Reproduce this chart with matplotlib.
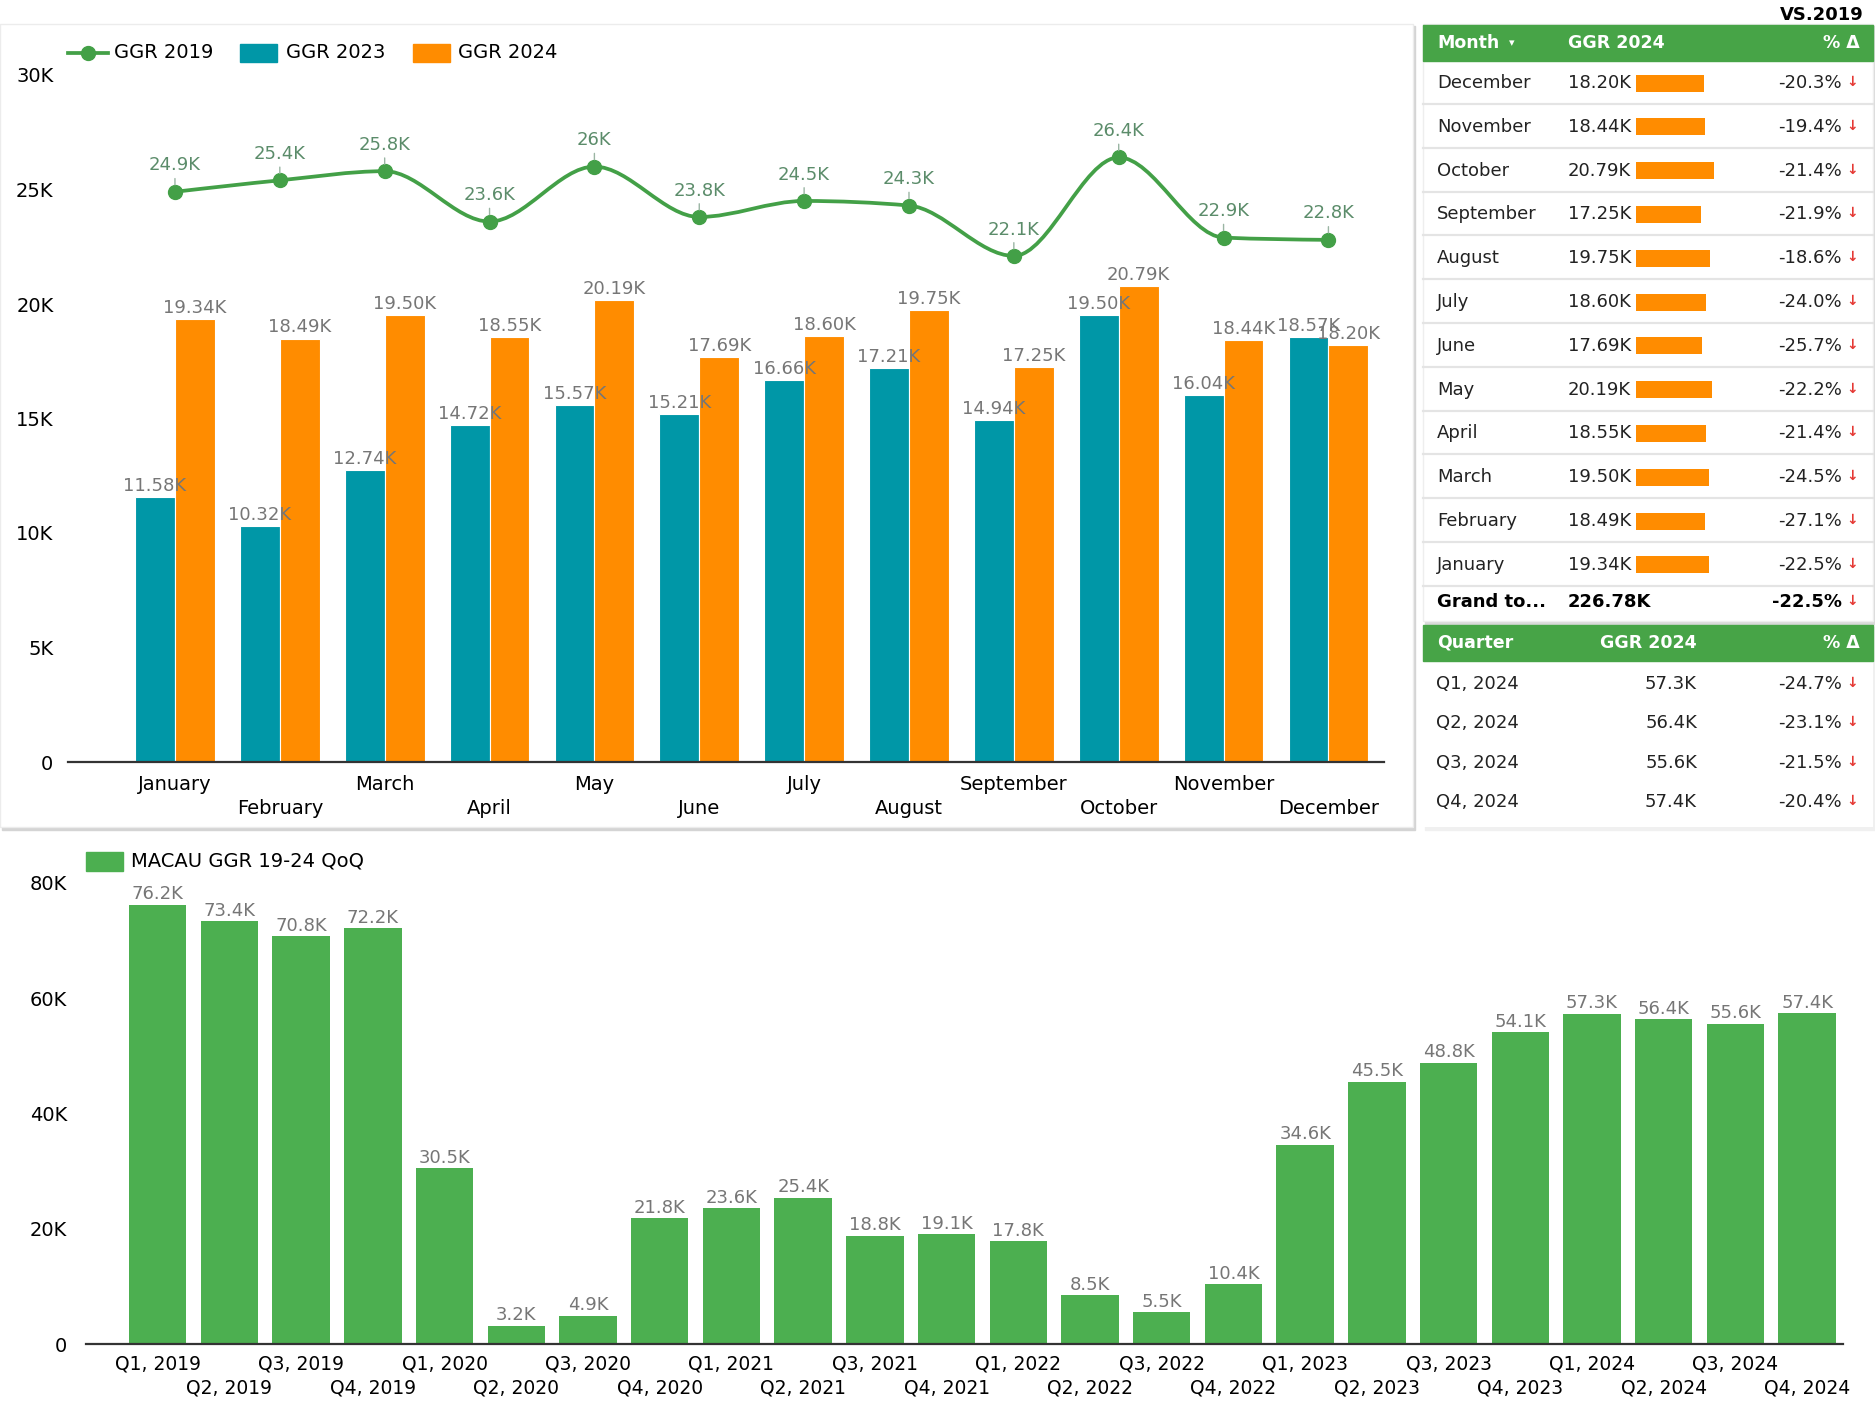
import numpy as np
import matplotlib
matplotlib.use("Agg")
import matplotlib.pyplot as plt
from matplotlib.path import Path
from matplotlib.patches import PathPatch, Rectangle
from matplotlib.lines import Line2D
from matplotlib.ticker import FuncFormatter

plt.rcParams["font.family"] = ["DejaVu Sans"]

# ---- data (values in thousands) ----
months = ["January", "February", "March", "April", "May", "June", "July",
          "August", "September", "October", "November", "December"]
ggr_2019 = [24.9, 25.4, 25.8, 23.6, 26.0, 23.8, 24.5, 24.3, 22.1, 26.4, 22.9, 22.8]
ggr_2023 = [11.58, 10.32, 12.74, 14.72, 15.57, 15.21, 16.66, 17.21, 14.94, 19.50, 16.04, 18.57]
ggr_2024 = [19.34, 18.49, 19.50, 18.55, 20.19, 17.69, 18.60, 19.75, 17.25, 20.79, 18.44, 18.20]

quarters = [f"Q{q}, {y}" for y in range(2019, 2025) for q in range(1, 5)]
ggr_qoq = [76.2, 73.4, 70.8, 72.2, 30.5, 3.2, 4.9, 21.8, 23.6, 25.4, 18.8, 19.1,
           17.8, 8.5, 5.5, 10.4, 34.6, 45.5, 48.8, 54.1, 57.3, 56.4, 55.6, 57.4]

# table (VS.2019) rows, December first
tbl_months = months[::-1]
tbl_ggr = ggr_2024[::-1]
tbl_pct = [-20.3, -19.4, -21.4, -21.9, -18.6, -24.0, -25.7, -22.2, -21.4, -24.5, -27.1, -22.5]
grand_total = 226.78
grand_pct = -22.5
q_labels = ["Q1, 2024", "Q2, 2024", "Q3, 2024", "Q4, 2024"]
q_ggr = [57.3, 56.4, 55.6, 57.4]
q_pct = [-24.7, -23.1, -21.5, -20.4]

TEAL = "#0097A7"
ORANGE = "#FF8C00"
GREEN = "#43A047"
BAR_GREEN = "#4CAF50"
HEAD_GREEN = "#47A447"
LBL_GREY = "#767676"
LINE_LBL = "#5B8C6A"

W, H = 1875, 1407
fig = plt.figure(figsize=(W / 100, H / 100), dpi=100)
fig.patch.set_facecolor("white")

# background axes in pixel coordinates (cards, legends, table)
bg = fig.add_axes([0, 0, 1, 1], zorder=0)
bg.set_xlim(0, W)
bg.set_ylim(H, 0)
bg.axis("off")


def px_axes(x0, y0, x1, y1):
    ax = fig.add_axes([x0 / W, 1 - y1 / H, (x1 - x0) / W, (y1 - y0) / H], zorder=2)
    ax.set_facecolor("none")
    return ax


def monotone_path(x, y):
    # monotone cubic (like d3 curveMonotoneX) as bezier segments
    x = np.asarray(x, float)
    y = np.asarray(y, float)
    n = len(x)
    h = np.diff(x)
    s = np.diff(y) / h
    t = np.zeros(n)
    for i in range(1, n - 1):
        s0, s1, h0, h1 = s[i - 1], s[i], h[i - 1], h[i]
        p = (s0 * h1 + s1 * h0) / (h0 + h1)
        t[i] = (np.sign(s0) + np.sign(s1)) * min(abs(s0), abs(s1), 0.5 * abs(p))
    t[0] = (3 * s[0] - t[1]) / 2
    t[-1] = (3 * s[-1] - t[-2]) / 2
    verts = [(x[0], y[0])]
    codes = [Path.MOVETO]
    for i in range(n - 1):
        dx = (x[i + 1] - x[i]) / 3
        verts += [(x[i] + dx, y[i] + dx * t[i]),
                  (x[i + 1] - dx, y[i + 1] - dx * t[i + 1]),
                  (x[i + 1], y[i + 1])]
        codes += [Path.CURVE4] * 3
    return Path(verts, codes)


def staggered_xticks(ax, labels, size, pad1, pad2):
    # two rows of category labels: even ones on the major ticks, odd ones on the minor ticks
    pos = np.arange(len(labels))
    ax.set_xticks(pos[::2])
    ax.set_xticklabels(labels[::2], fontsize=size)
    ax.set_xticks(pos[1::2], minor=True)
    ax.set_xticklabels(labels[1::2], minor=True, fontsize=size)
    ax.tick_params(axis="x", which="major", length=0, pad=pad1)
    ax.tick_params(axis="x", which="minor", length=0, pad=pad2)


def k_fmt(v, p):
    return "0" if v == 0 else f"{v:g}K"


# ---- cards ----
bg.add_patch(Rectangle((2, 26), 1413, 804, color="#d4d4d4", zorder=0))
bg.add_patch(Rectangle((0, 24), 1413, 803, facecolor="white", edgecolor="#ececec", lw=1, zorder=1))
bg.add_patch(Rectangle((1425, 26), 450, 598, color="#d9d9d9", zorder=0))
bg.add_patch(Rectangle((1423, 24), 450, 597, facecolor="white", edgecolor="#eeeeee", lw=1, zorder=1))
bg.add_patch(Rectangle((1425, 627), 450, 203, color="#f0f0f0", zorder=0))
bg.add_patch(Rectangle((1423, 625), 450, 202, facecolor="white", zorder=1))

# ---- top chart ----
ax = px_axes(68, 75, 1384, 762)
x = np.arange(len(months))
bw = 0.38
b23 = ax.bar(x - bw / 2, ggr_2023, bw, color=TEAL, edgecolor="white", linewidth=0.8, zorder=2)
b24 = ax.bar(x + bw / 2, ggr_2024, bw, color=ORANGE, edgecolor="white", linewidth=0.8, zorder=2)
for bars, vals in ((b23, ggr_2023), (b24, ggr_2024)):
    for r, v in zip(bars, vals):
        ax.annotate(f"{v:.2f}K", (r.get_x() + r.get_width() / 2, v), xytext=(0, 8),
                    textcoords="offset points", ha="center", va="center",
                    fontsize=13, color=LBL_GREY, zorder=5)

ax.add_patch(PathPatch(monotone_path(x, ggr_2019), fill=False, edgecolor=GREEN, lw=2.7, zorder=3))
ax.plot(x, ggr_2019, "o", color=GREEN, markersize=10, zorder=4)
for xi, v in zip(x, ggr_2019):
    ax.annotate(f"{v:g}K", (xi, v), xytext=(0, 19), textcoords="offset points",
                ha="center", va="center", fontsize=13, color=LINE_LBL, zorder=5,
                arrowprops=dict(arrowstyle="-", color="#9ab5a3", lw=1, shrinkA=1, shrinkB=5))

ax.set_xlim(-1.02, 11.53)
ax.set_ylim(0, 30)
ax.set_yticks(range(0, 31, 5))
ax.yaxis.set_major_formatter(FuncFormatter(k_fmt))
staggered_xticks(ax, months, 14, 9.5, 27)
ax.tick_params(axis="y", length=0, pad=10.5, labelsize=14)
for sp in ("top", "right", "left"):
    ax.spines[sp].set_visible(False)
ax.spines["bottom"].set_color("#333333")
ax.spines["bottom"].set_linewidth(1.6)

# top legend
bg.add_line(Line2D([68, 108], [53, 53], color=GREEN, lw=2.7, zorder=3))
bg.plot([88], [53], "o", color=GREEN, markersize=10, zorder=4)
bg.text(114, 53, "GGR 2019", fontsize=14, va="center", ha="left", zorder=4)
bg.add_patch(Rectangle((240, 44), 37, 18, color=TEAL, zorder=3))
bg.text(286, 53, "GGR 2023", fontsize=14, va="center", ha="left", zorder=4)
bg.add_patch(Rectangle((413, 44), 37, 18, color=ORANGE, zorder=3))
bg.text(458, 53, "GGR 2024", fontsize=14, va="center", ha="left", zorder=4)

# ---- bottom chart ----
ax2 = px_axes(86, 883, 1843, 1344)
xq = np.arange(len(quarters))
bq = ax2.bar(xq, ggr_qoq, 0.8, color=BAR_GREEN, zorder=2)
for r, v in zip(bq, ggr_qoq):
    ax2.annotate(f"{v:.1f}K", (r.get_x() + r.get_width() / 2, v), xytext=(0, 7.5),
                 textcoords="offset points", ha="center", va="center",
                 fontsize=13, color=LBL_GREY)
ax2.set_xlim(-1.0, 23.5)
ax2.set_ylim(0, 80)
ax2.set_yticks(range(0, 81, 20))
ax2.yaxis.set_major_formatter(FuncFormatter(k_fmt))
staggered_xticks(ax2, quarters, 13.5, 7.5, 25)
ax2.tick_params(axis="y", length=0, pad=13.5, labelsize=14)
for sp in ("top", "right", "left"):
    ax2.spines[sp].set_visible(False)
ax2.spines["bottom"].set_color("#333333")
ax2.spines["bottom"].set_linewidth(1.6)

bg.add_patch(Rectangle((86, 852), 37, 19, color=BAR_GREEN, zorder=3))
bg.text(131, 861, "MACAU GGR 19-24 QoQ", fontsize=14, va="center", ha="left", zorder=4)

# ---- month table ----
bg.text(1864, 15, "VS.2019", fontsize=13, fontweight="bold", ha="right", va="center", zorder=4)
bg.add_patch(Rectangle((1423, 25), 450, 36, color=HEAD_GREEN, zorder=3))
hdr = dict(fontsize=12.5, fontweight="bold", color="white", va="center", zorder=4)
bg.text(1437, 43, "Month", ha="left", **hdr)
bg.text(1512, 43, "\u25be", ha="center", fontsize=8, color="white", va="center", zorder=4)
bg.text(1568, 43, "GGR 2024", ha="left", **hdr)
bg.text(1860, 43, "% \u0394", ha="right", **hdr)

row_y = 83 + 43.8 * np.arange(len(tbl_months))
bg.barh(row_y, [v * 3.75 for v in tbl_ggr], height=17, left=1636, color=ORANGE, zorder=3)
for yy, m, v, p in zip(row_y, tbl_months, tbl_ggr, tbl_pct):
    bg.text(1437, yy, m, fontsize=13, ha="left", va="center", color="#222222", zorder=4)
    bg.text(1631, yy, f"{v:.2f}K", fontsize=13, ha="right", va="center", color="#222222", zorder=4)
    bg.text(1842, yy, f"{p:.1f}%", fontsize=13, ha="right", va="center", color="#222222", zorder=4)
    bg.text(1852, yy - 1, "\u2193", fontsize=10, fontweight="bold", ha="center", va="center",
            color="#E53935", zorder=4)
    bg.add_line(Line2D([1423, 1873], [yy + 21, yy + 21], color="#e4e4e4", lw=1.6, zorder=3))

gy = 602
bg.text(1437, gy, "Grand to...", fontsize=13, fontweight="bold", ha="left", va="center", zorder=4)
bg.text(1568, gy, f"{grand_total:.2f}K", fontsize=13, fontweight="bold", ha="left", va="center", zorder=4)
bg.text(1842, gy, f"{grand_pct:.1f}%", fontsize=13, fontweight="bold", ha="right", va="center", zorder=4)
bg.text(1852, gy - 1, "\u2193", fontsize=10, fontweight="bold", ha="center", va="center",
        color="#E53935", zorder=4)

# ---- quarter table ----
bg.add_patch(Rectangle((1423, 625), 450, 36, color=HEAD_GREEN, zorder=3))
bg.text(1437, 643, "Quarter", ha="left", **hdr)
bg.text(1697, 643, "GGR 2024", ha="right", **hdr)
bg.text(1860, 643, "% \u0394", ha="right", **hdr)
q_y = 684 + 39.3 * np.arange(len(q_labels))
for yy, q, v, p in zip(q_y, q_labels, q_ggr, q_pct):
    bg.text(1436, yy, q, fontsize=13, ha="left", va="center", color="#222222", zorder=4)
    bg.text(1697, yy, f"{v:.1f}K", fontsize=13, ha="right", va="center", color="#222222", zorder=4)
    bg.text(1842, yy, f"{p:.1f}%", fontsize=13, ha="right", va="center", color="#222222", zorder=4)
    bg.text(1852, yy - 1, "\u2193", fontsize=10, fontweight="bold", ha="center", va="center",
            color="#E53935", zorder=4)

fig.savefig("out.png", dpi=100)
